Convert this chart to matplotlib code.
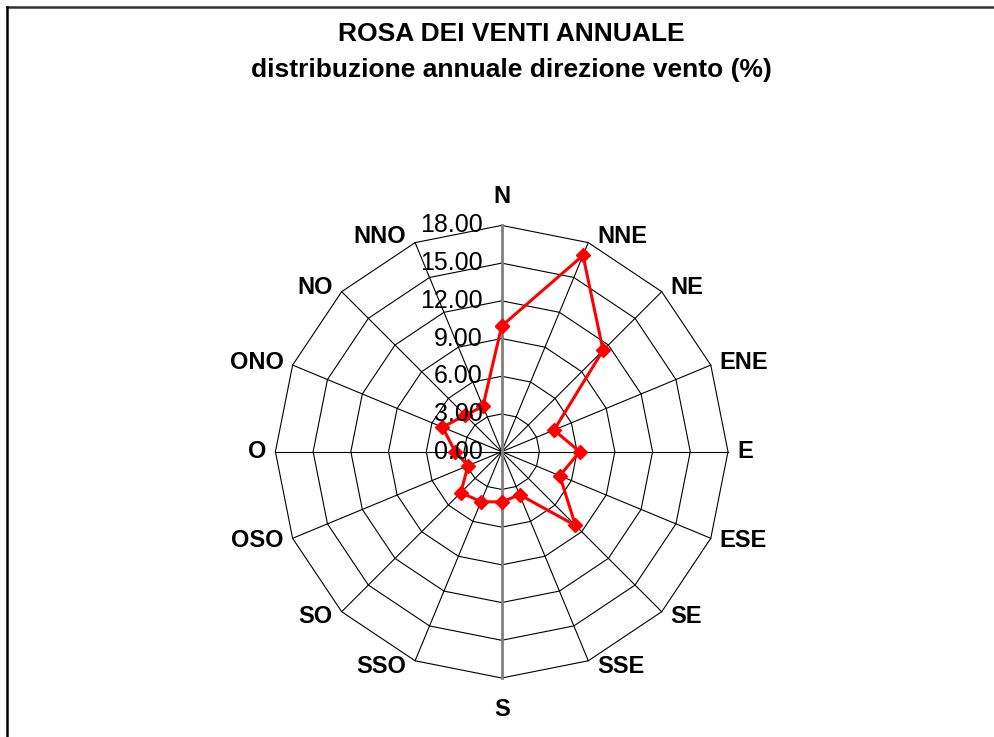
import numpy as np
import matplotlib
matplotlib.use('Agg')
import matplotlib.pyplot as plt

plt.rcParams['font.family'] = ['Liberation Sans', 'DejaVu Sans']

# direzioni (in senso orario da N) e frequenze annuali (%)
directions = ['N', 'NNE', 'NE', 'ENE', 'E', 'ESE', 'SE', 'SSE',
              'S', 'SSO', 'SO', 'OSO', 'O', 'ONO', 'NO', 'NNO']
frequency = [10.0, 16.9, 11.4, 4.5, 6.2, 5.0, 8.3, 3.7,
             4.0, 4.3, 4.6, 2.9, 3.7, 5.1, 4.1, 3.9]
ring_values = [0, 3, 6, 9, 12, 15, 18]
ring_labels = ['%.2f' % v for v in ring_values]

W, H, DPI = 995, 737, 100
cx, cy = 501.7, 451.7      # centro in pixel
px_per_unit = 226.3 / 18

fig = plt.figure(figsize=(W / DPI, H / DPI), dpi=DPI)
ax = fig.add_axes([0, 0, 1, 1])
ax.set_xlim(-cx / px_per_unit, (W - cx) / px_per_unit)
ax.set_ylim(-(H - cy) / px_per_unit, cy / px_per_unit)
ax.axis('off')

# bordo del grafico (solo lati superiore e sinistro visibili)
fig.add_artist(plt.Line2D([7 / W, 1], [1 - 7 / H, 1 - 7 / H], color='#333333', lw=1.8))
fig.add_artist(plt.Line2D([7 / W, 7 / W], [0, 1 - 7 / H], color='black', lw=1.8))

theta = np.deg2rad(np.arange(len(directions)) * 360 / len(directions))
sin, cos = np.sin(theta), np.cos(theta)
rmax = ring_values[-1]

# anelli poligonali
for v in ring_values[1:]:
    xs = np.append(v * sin, v * sin[0])
    ys = np.append(v * cos, v * cos[0])
    ax.plot(xs, ys, color='black', lw=0.8, zorder=1)

# raggi
for i in range(len(directions)):
    if directions[i] in ('N', 'S'):
        ax.plot([0, rmax * sin[i]], [0, rmax * cos[i]], color='#808080', lw=2, zorder=2)
    else:
        ax.plot([0, rmax * sin[i]], [0, rmax * cos[i]], color='black', lw=0.8, zorder=1)

# serie dati
fx = np.array(frequency) * sin
fy = np.array(frequency) * cos
ax.plot(np.append(fx, fx[0]), np.append(fy, fy[0]), color='#ff0000', lw=2.2,
        marker='D', markersize=7, markeredgecolor='#ff0000', zorder=3)

# etichette direzioni
k = 72 / DPI
for i, lab in enumerate(directions):
    end = (rmax * sin[i], rmax * cos[i])
    if lab == 'N':
        ax.annotate(lab, end, xytext=(0, 29 * k), textcoords='offset points',
                    ha='center', va='center', fontsize=17, fontweight='bold')
    elif lab == 'S':
        ax.annotate(lab, end, xytext=(0, -31 * k), textcoords='offset points',
                    ha='center', va='center', fontsize=17, fontweight='bold')
    else:
        side = 1 if sin[i] > 0 else -1
        ax.annotate(lab, end, xytext=(side * 9 * k, 6.5 * cos[i] * k),
                    textcoords='offset points',
                    ha='left' if side > 0 else 'right', va='center',
                    fontsize=17, fontweight='bold')

# etichette valori sull'asse N
for v, lab in zip(ring_values, ring_labels):
    ax.annotate(lab, (0, v), xytext=(-19 * k, 0), textcoords='offset points',
                ha='right', va='center', fontsize=18, zorder=5)

fig.text(511 / W, 1 - 34 / H, 'ROSA DEI VENTI ANNUALE', ha='center', va='center',
         fontsize=19, fontweight='bold')
fig.text(511 / W, 1 - 70 / H, 'distribuzione annuale direzione vento (%)',
         ha='center', va='center', fontsize=19, fontweight='bold')

fig.savefig('out.png', dpi=DPI)
